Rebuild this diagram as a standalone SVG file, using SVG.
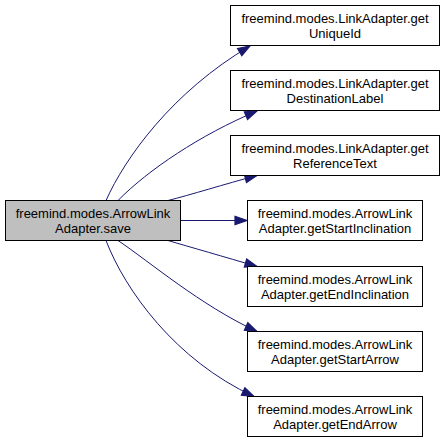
<svg xmlns="http://www.w3.org/2000/svg" width="445" height="443" viewBox="0 0 445 443">
<style>
.box{fill:#ffffff;stroke:#000000;stroke-width:1}
.main{fill:#bfbfbf;stroke:#000000;stroke-width:1}
text{font-family:"Liberation Sans",Arial,sans-serif;font-size:13px;fill:#000000;text-anchor:middle}
.edge{fill:none;stroke:#191970;stroke-width:1}
</style>
<defs>
<marker id="arr" markerUnits="userSpaceOnUse" markerWidth="12" markerHeight="9" viewBox="0 0 10 7" refX="10" refY="3.5" orient="auto" overflow="visible">
<path d="M0,0 L10,3.5 L0,7 z" fill="#191970" stroke="#191970" stroke-width="1"/>
</marker>
</defs>
<rect width="445" height="443" fill="#ffffff"/>
<g id="edges">
<path class="edge" marker-end="url(#arr)" d="M106,200.5 C125,158 172,92 250,46"/>
<path class="edge" marker-end="url(#arr)" d="M118,200.5 C148,170 200,135 257,111"/>
<path class="edge" marker-end="url(#arr)" d="M168,200.5 C190,195 225,184 257,175.5"/>
<path class="edge" marker-end="url(#arr)" d="M180.5,220.5 L247,220.5"/>
<path class="edge" marker-end="url(#arr)" d="M168,240.5 C190,247 225,257 257,266.5"/>
<path class="edge" marker-end="url(#arr)" d="M118,240.5 C150,262 200,305 257,331.5"/>
<path class="edge" marker-end="url(#arr)" d="M106,240.5 C125,290 175,360 254,396.5"/>
</g>
<g id="main">
<rect class="main" x="5.5" y="200.5" width="175" height="40"/>
<text x="93" y="218">freemind.modes.ArrowLink</text>
<text x="93" y="233">Adapter.save</text>
</g>
<g id="n1">
<rect class="box" x="230.5" y="5.5" width="209" height="40"/>
<text x="335" y="23">freemind.modes.LinkAdapter.get</text>
<text x="335" y="38">UniqueId</text>
</g>
<g id="n2">
<rect class="box" x="230.5" y="70.5" width="209" height="40"/>
<text x="335" y="88">freemind.modes.LinkAdapter.get</text>
<text x="335" y="103">DestinationLabel</text>
</g>
<g id="n3">
<rect class="box" x="230.5" y="135.5" width="209" height="40"/>
<text x="335" y="153">freemind.modes.LinkAdapter.get</text>
<text x="335" y="168">ReferenceText</text>
</g>
<g id="n4">
<rect class="box" x="247.5" y="200.5" width="175" height="40"/>
<text x="335" y="218">freemind.modes.ArrowLink</text>
<text x="335" y="233">Adapter.getStartInclination</text>
</g>
<g id="n5">
<rect class="box" x="247.5" y="266.5" width="175" height="40"/>
<text x="335" y="284">freemind.modes.ArrowLink</text>
<text x="335" y="299">Adapter.getEndInclination</text>
</g>
<g id="n6">
<rect class="box" x="247.5" y="331.5" width="175" height="40"/>
<text x="335" y="349">freemind.modes.ArrowLink</text>
<text x="335" y="364">Adapter.getStartArrow</text>
</g>
<g id="n7">
<rect class="box" x="247.5" y="396.5" width="175" height="40"/>
<text x="335" y="414">freemind.modes.ArrowLink</text>
<text x="335" y="429">Adapter.getEndArrow</text>
</g>
</svg>
